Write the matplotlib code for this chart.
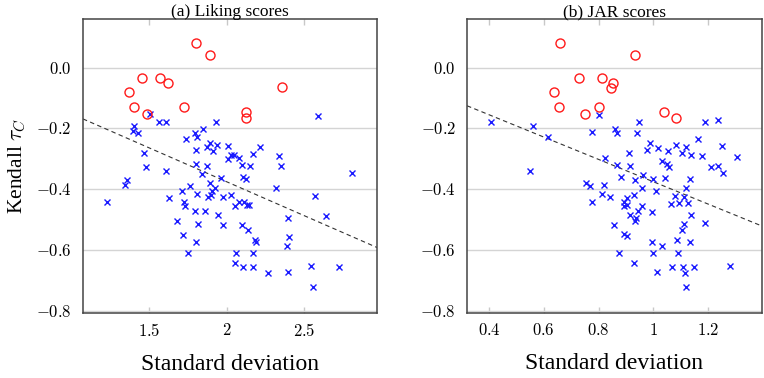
import numpy as np
import matplotlib
matplotlib.use("Agg")
import matplotlib.pyplot as plt

plt.rcParams['mathtext.fontset'] = 'cm'
plt.rcParams['font.family'] = ['Liberation Serif', 'DejaVu Serif']

# (a) Liking scores: productos "outlier" (círculos) y resto (cruces)
liking_out_x = [1.799, 1.889, 1.453, 1.571, 1.620, 1.367, 2.360, 1.399, 1.722, 1.483, 2.126, 2.122]
liking_out_y = [0.082, 0.040, -0.034, -0.034, -0.050, -0.079, -0.065, -0.129, -0.131, -0.152, -0.145, -0.165]

liking_x = [1.504, 1.399, 1.393, 1.425, 1.564, 1.609, 1.930, 2.588, 1.844, 1.795,
            1.810, 1.737, 1.891, 1.938, 1.872, 1.803, 1.913, 2.006, 2.214, 2.171,
            2.026, 2.045, 1.466, 2.339, 2.007, 2.080, 1.801, 1.478, 1.870, 2.098,
            2.149, 2.351, 1.607, 1.842, 2.812, 2.106, 2.124, 1.960, 1.891, 1.354,
            1.343, 1.762, 1.923, 2.317, 1.709, 1.904, 1.810, 2.027, 1.876, 1.898,
            1.973, 1.629, 2.571, 1.225, 1.726, 1.730, 2.053, 2.080, 2.113, 2.128,
            2.145, 1.795, 1.859, 1.945, 2.393, 2.644, 1.676, 1.812, 1.977, 2.098,
            2.139, 1.715, 2.403, 2.181, 2.192, 1.801, 2.386, 1.751, 2.059, 2.171,
            2.053, 2.102, 2.171, 2.541, 2.726, 2.268, 2.395, 2.556]
liking_y = [-0.154, -0.194, -0.210, -0.216, -0.178, -0.178, -0.178, -0.158, -0.202, -0.214,
            -0.228, -0.235, -0.248, -0.254, -0.263, -0.271, -0.275, -0.258, -0.262, -0.283,
            -0.287, -0.289, -0.281, -0.291, -0.302, -0.297, -0.318, -0.327, -0.325, -0.322,
            -0.325, -0.324, -0.340, -0.350, -0.348, -0.361, -0.368, -0.362, -0.379, -0.371,
            -0.388, -0.390, -0.398, -0.396, -0.407, -0.407, -0.416, -0.420, -0.425, -0.420,
            -0.427, -0.429, -0.424, -0.444, -0.444, -0.455, -0.455, -0.444, -0.444, -0.451,
            -0.453, -0.473, -0.473, -0.486, -0.494, -0.490, -0.505, -0.514, -0.518, -0.518,
            -0.536, -0.551, -0.558, -0.568, -0.573, -0.573, -0.588, -0.609, -0.612, -0.611,
            -0.642, -0.657, -0.656, -0.653, -0.655, -0.677, -0.673, -0.723]

# (b) JAR scores
jar_out_x = [0.659, 0.934, 0.729, 0.814, 0.853, 0.846, 0.637, 0.654, 0.801, 0.751, 1.039, 1.081]
jar_out_y = [0.082, 0.040, -0.033, -0.033, -0.051, -0.067, -0.079, -0.131, -0.129, -0.153, -0.146, -0.165]

jar_x = [0.408, 0.561, 0.615, 0.549, 0.801, 0.776, 0.859, 0.867, 0.949, 0.940,
         1.188, 1.237, 1.161, 1.249, 0.988, 0.978, 1.016, 1.052, 1.081, 1.120,
         1.103, 1.138, 1.176, 1.305, 0.911, 0.824, 0.866, 0.915, 1.032, 1.050,
         1.055, 1.209, 1.235, 1.255, 0.883, 0.962, 0.934, 0.999, 1.041, 1.135,
         0.753, 0.769, 0.819, 0.958, 1.011, 1.118, 0.813, 0.842, 0.929, 0.902,
         0.776, 0.894, 0.904, 0.892, 0.960, 1.064, 1.094, 1.112, 1.126, 1.080,
         0.996, 0.943, 0.916, 0.938, 0.931, 1.136, 0.855, 1.113, 1.187, 1.103,
         0.891, 0.904, 0.996, 1.086, 1.135, 1.030, 0.875, 1.000, 1.091, 0.928,
         1.069, 1.108, 1.148, 1.278, 1.012, 1.115, 1.119]
jar_y = [-0.179, -0.194, -0.230, -0.342, -0.155, -0.213, -0.202, -0.216, -0.179, -0.214,
         -0.179, -0.171, -0.235, -0.258, -0.248, -0.270, -0.265, -0.275, -0.254, -0.263,
         -0.281, -0.289, -0.291, -0.293, -0.281, -0.298, -0.322, -0.325, -0.308, -0.316,
         -0.327, -0.327, -0.325, -0.347, -0.360, -0.353, -0.371, -0.368, -0.363, -0.368,
         -0.379, -0.390, -0.388, -0.396, -0.406, -0.396, -0.415, -0.426, -0.418, -0.429,
         -0.443, -0.444, -0.452, -0.457, -0.455, -0.450, -0.445, -0.426, -0.445, -0.424,
         -0.475, -0.473, -0.484, -0.494, -0.505, -0.487, -0.518, -0.516, -0.513, -0.535,
         -0.549, -0.556, -0.573, -0.568, -0.573, -0.588, -0.611, -0.612, -0.609, -0.642,
         -0.657, -0.657, -0.656, -0.653, -0.673, -0.677, -0.723]

# rectas de tendencia (ordenada, pendiente)
liking_fit = (0.070, -0.223)
jar_fit = (-0.008, -0.368)

paneles = [
    ("(a) Liking scores", liking_x, liking_y, liking_out_x, liking_out_y, liking_fit,
     (1.072, 2.97), [1.5, 2.0, 2.5], ["1.5", "2", "2.5"]),
    ("(b) JAR scores", jar_x, jar_y, jar_out_x, jar_out_y, jar_fit,
     (0.32, 1.395), [0.4, 0.6, 0.8, 1.0, 1.2], ["0.4", "0.6", "0.8", "1", "1.2"]),
]
yticks = [-0.8, -0.6, -0.4, -0.2, 0.0]
ytick_labels = ["-0.8", "-0.6", "-0.4", "-0.2", "0.0"]

fig = plt.figure(figsize=(7.64, 3.78), dpi=100)
posiciones = [[0.1086, 0.172, 0.3848, 0.7778], [0.6113, 0.172, 0.3857, 0.7778]]

for pos, (titulo, xs, ys, ox, oy, fit, xlim, xt, xtl) in zip(posiciones, paneles):
    ax = fig.add_axes(pos)
    ax.set_xlim(*xlim)
    ax.set_ylim(-0.808, 0.16)
    ax.set_yticks(yticks)
    ax.set_yticklabels([r"$\mathrm{" + t + "}$" for t in ytick_labels])
    ax.set_xticks(xt)
    ax.set_xticklabels([r"$\mathrm{" + t + "}$" for t in xtl])
    ax.yaxis.grid(True, color='#d4d4d4', linewidth=1.0)
    ax.set_axisbelow(True)
    ax.tick_params(axis='x', direction='in', length=4, width=1, color='#c8c8c8',
                   top=True, labelsize=12, pad=7)
    ax.tick_params(axis='y', length=0, labelsize=12, pad=8)
    for s in ax.spines.values():
        s.set_color('#444444')
        s.set_linewidth(1.1)

    lx = np.array(xlim)
    ax.plot(lx, fit[0] + fit[1] * lx, linestyle=(0, (4, 3)), color='#333333',
            linewidth=0.8, zorder=2)
    ax.plot(xs, ys, linestyle='none', marker='x', color='#1a1aff', markersize=4.5,
            markeredgewidth=1.0, zorder=3)
    ax.plot(ox, oy, linestyle='none', marker='o', markerfacecolor='none',
            markeredgecolor='#ff1a1a', markersize=6.5, markeredgewidth=1.0, zorder=3)

    ax.set_title(titulo, fontsize=12.5, pad=2)
    ax.set_xlabel("Standard deviation", fontsize=17, labelpad=10)

fig.text(0.021, 0.172 + 0.7778 / 2, r"Kendall $\tau_C$", rotation=90,
         ha='center', va='center', fontsize=15.5)

fig.savefig("out.png", dpi=100)
